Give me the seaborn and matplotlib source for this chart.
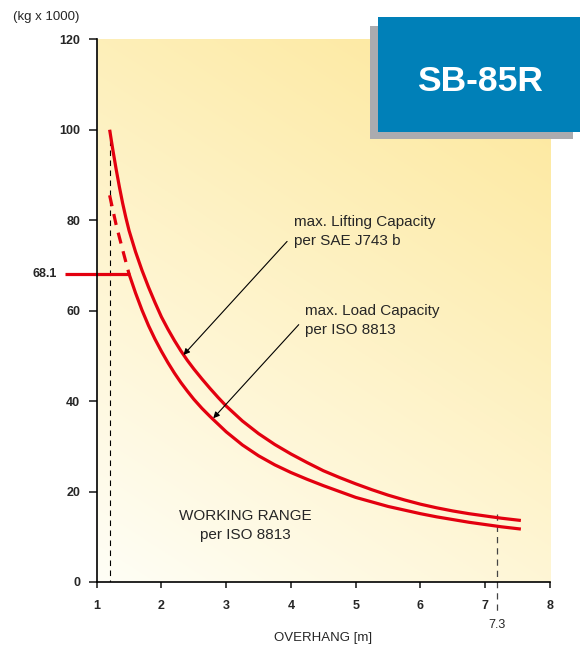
import numpy as np
import matplotlib
matplotlib.use("Agg")
import matplotlib.pyplot as plt
import seaborn as sns
from matplotlib.patches import Rectangle

# ---- data ----
upper_x = [1.2, 1.25, 1.3, 1.35, 1.4, 1.45, 1.5, 1.6, 1.7, 1.8, 1.9, 2.0, 2.1, 2.2, 2.3, 2.4,
           2.5, 2.625, 2.75, 2.875, 3.0, 3.25, 3.5, 3.75, 4.0, 4.25, 4.5, 4.75, 5.0, 5.25,
           5.5, 5.75, 6.0, 6.25, 6.5, 6.75, 7.0, 7.25, 7.55]
upper_y = [100, 95.5, 91.3, 87.4, 83.8, 80.6, 77.7, 73.0, 68.9, 65.2, 61.8, 58.6, 55.9, 53.4,
           51.1, 49.0, 47.1, 44.9, 42.8, 40.8, 38.9, 35.6, 32.8, 30.4, 28.3, 26.4, 24.6,
           23.1, 21.7, 20.4, 19.2, 18.15, 17.2, 16.4, 15.7, 15.1, 14.6, 14.1, 13.6]

lower_x = [1.5, 1.6, 1.7, 1.8, 1.9, 2.0, 2.1, 2.2, 2.3, 2.4, 2.5, 2.625, 2.75, 2.875, 3.0,
           3.25, 3.5, 3.75, 4.0, 4.25, 4.5, 4.75, 5.0, 5.25, 5.5, 5.75, 6.0, 6.25, 6.5,
           6.75, 7.0, 7.25, 7.55]
lower_y = [68.1, 63.9, 60.1, 56.7, 53.7, 51.0, 48.5, 46.2, 44.1, 42.2, 40.4, 38.4, 36.6, 34.9,
           33.2, 30.3, 27.9, 25.9, 24.2, 22.7, 21.3, 20.0, 18.7, 17.7, 16.7, 15.9, 15.1,
           14.4, 13.8, 13.2, 12.7, 12.2, 11.7]

dash_x = [1.2, 1.3, 1.4, 1.5]
dash_y = [85.5, 79, 73.5, 68.1]

flat_x = [0.51, 1.51]
flat_y = [68.1, 68.1]

vmin_x = [1.2, 1.2]
vmin_y = [100, 0]
vmax_x = [7.18, 7.18]
vmax_y = [15, -6.9]

x_ticks = [1, 2, 3, 4, 5, 6, 7, 8]
y_ticks = [0, 20, 40, 60, 80, 100, 120]

RED = "#E3000F"

sns.set_style("ticks")
plt.rcParams['font.family'] = ['Liberation Sans', 'DejaVu Sans']

fig = plt.figure(figsize=(5.8, 6.46), dpi=100)
ax = fig.add_axes([0.1667, 0.0991, 0.9483 - 0.1667, 0.9392 - 0.0991])
ax.set_xlim(1, 8)
ax.set_ylim(0, 120)

# background gradient (pale cream bottom-left -> yellow top-right)
n = 300
u = np.linspace(0, 1, n)[None, :]
v = np.linspace(0, 1, n)[:, None]
t = np.clip(u * 0.35 + v * 0.65, 0, 1)
c0 = np.array([255, 254, 246]) / 255
c1 = np.array([253, 231, 152]) / 255
img = c0[None, None, :] * (1 - t[..., None]) + c1[None, None, :] * t[..., None]
ax.imshow(img, extent=[1, 8, 0, 120], origin="lower", aspect="auto", zorder=0)

# curves
line_kw = dict(ax=ax, color=RED, lw=2.3, sort=False, estimator=None, zorder=3,
               solid_joinstyle="round", solid_capstyle="butt")
sns.lineplot(x=upper_x, y=upper_y, **line_kw)
sns.lineplot(x=lower_x, y=lower_y, **line_kw)
sns.lineplot(x=flat_x, y=flat_y, clip_on=False, **line_kw)
sns.lineplot(x=dash_x, y=dash_y, ax=ax, color=RED, lw=2.3, sort=False, estimator=None,
             zorder=3, linestyle=(0, (3.5, 2.5)))

# dashed reference lines
sns.lineplot(x=vmin_x, y=vmin_y, ax=ax, color="black", lw=0.8, sort=False, estimator=None,
             zorder=2, linestyle=(0, (5, 4)))
sns.lineplot(x=vmax_x, y=vmax_y, ax=ax, color="#444444", lw=0.9, sort=False, estimator=None,
             zorder=2, linestyle=(0, (5, 4)), clip_on=False)

ax.set_xticks(x_ticks)
ax.set_yticks(y_ticks)
ax.tick_params(axis="y", length=5.8, width=1.2, pad=6, labelsize=9)
ax.tick_params(axis="x", length=4.3, width=1.2, pad=9, labelsize=9)
for lab in ax.get_xticklabels() + ax.get_yticklabels():
    lab.set_fontweight("bold")
sns.despine(ax=ax)
for s in ["left", "bottom"]:
    ax.spines[s].set_linewidth(1.2)
    ax.spines[s].set_color("black")
    ax.spines[s].set_zorder(4)
ax.set_xlabel("")
ax.set_ylabel("")

# annotations
ax.text(4.04, 77.6, "max. Lifting Capacity\nper SAE J743 b", fontsize=11,
        ha="left", va="center", linespacing=1.45, zorder=5)
ax.text(4.22, 57.8, "max. Load Capacity\nper ISO 8813", fontsize=11,
        ha="left", va="center", linespacing=1.45, zorder=5)
ax.text(3.29, 12.4, "WORKING RANGE\nper ISO 8813", fontsize=11,
        ha="center", va="center", linespacing=1.45, zorder=5)

ax.annotate("", xy=(2.34, 50.2), xytext=(3.94, 75.3),
            arrowprops=dict(arrowstyle="-|>", color="black", lw=0.8,
                            mutation_scale=9, shrinkA=0, shrinkB=0), zorder=5)
ax.annotate("", xy=(2.80, 36.2), xytext=(4.12, 56.9),
            arrowprops=dict(arrowstyle="-|>", color="black", lw=0.8,
                            mutation_scale=9, shrinkA=0, shrinkB=0), zorder=5)

fig.text(0.0224, 0.9737, "(kg x 1000)", fontsize=9.5, ha="left", va="center")
fig.text(0.5569, 0.0124, "OVERHANG [m]", fontsize=9.5, ha="center", va="center")
fig.text(57 / 580, (646 - 274) / 646, "68.1", fontsize=9, ha="right", va="center",
         fontweight="bold")
fig.text(0.8564, 0.0325, "7.3", fontsize=9, ha="center", va="center")

# title box with shadow
fig.add_artist(Rectangle((0.638, 0.7844), 0.3505, 0.1754, transform=fig.transFigure,
                         facecolor="#ABABAF", edgecolor="none", zorder=6))
fig.add_artist(Rectangle((0.6522, 0.7961), 0.3478, 0.1771, transform=fig.transFigure,
                         facecolor="#0080B8", edgecolor="none", zorder=7))
fig.text(0.8276, 0.8735, "SB-85R", fontsize=25.5, fontweight="bold", color="white",
         ha="center", va="center", zorder=8)

fig.savefig("out.png", dpi=100)
